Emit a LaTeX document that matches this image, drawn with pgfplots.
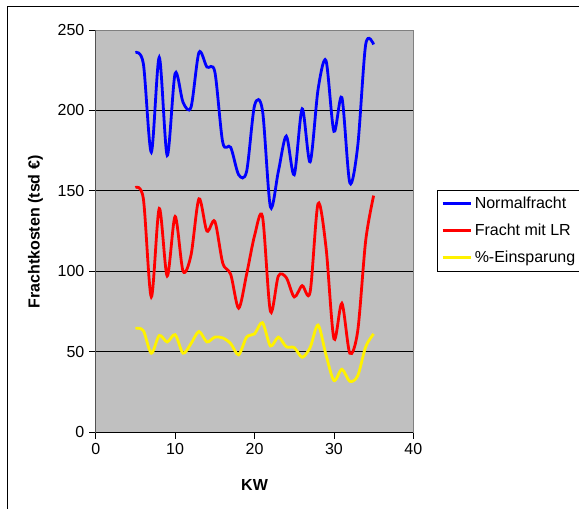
\documentclass[border=0pt]{standalone}
\usepackage{fontspec}
\setmainfont{Liberation Sans}
\usepackage{pgfplots}
\usepackage{pgfplotstable}
\pgfplotsset{compat=1.18}
\definecolor{plotbg}{RGB}{192,192,192}
\definecolor{framegray}{RGB}{128,128,128}
\pgfplotstableread{
kw  normal  lr     spar
5   236     152    64.5
6   229     145    63
7   174     84     49
8   233     139    60
9   172     97     56
10  223     134    60.5
11  205     100    49
12  202     110    55
13  236     145    62.5
14  227     125    56
15  224     131    59
16  180     105    58.5
17  177     98     55
18  160     77     48
19  162     98     59
20  203     122    61
21  200     134    68
22  140     75     53.5
23  162     97     59
24  184     96     53
25  160     84     52.5
26  201     91     46.5
27  168     87     52.5
28  213     142    66.5
29  231     115    48
30  187     58     32
31  208     80     39
32  155     49     31.5
33  178     63     35
34  241     119    53
35  241     147    61
}\datatable
\begin{document}
\begin{tikzpicture}
\useasboundingbox (0,0) rectangle (434.25pt,381pt);
\draw[black,line width=0.75pt] (5.6pt,-2pt) -- (5.6pt,376.1pt) -- (440pt,376.1pt);
\begin{axis}[
  at={(71.8pt,57pt)}, anchor=south west,
  scale only axis, width=238.2pt, height=301.5pt,
  xmin=0, xmax=40, ymin=0, ymax=250,
  xtick={0,10,...,40}, ytick={0,50,...,250},
  ymajorgrids, major grid style={black,line width=0.6pt},
  axis background/.style={fill=plotbg},
  axis line style={draw=framegray, line width=0.75pt},
  tick align=outside, xtick pos=bottom, ytick pos=left,
  major tick length=5pt, tick style={black,line width=0.6pt},
  /pgf/number format/assume math mode=true,
  ticklabel style={font=\fontsize{12}{14}\selectfont},
  xlabel={KW}, ylabel={Frachtkosten (tsd €)},
  every axis x label/.style={at={(axis description cs:0.5,-0.132)},anchor=center,font=\bfseries\fontsize{12}{14}\selectfont},
  every axis y label/.style={at={(axis description cs:-0.19,0.4975)},rotate=90,anchor=center,font=\bfseries\fontsize{12}{14}\selectfont},
  legend style={at={(axis description cs:1.0746,0.501)}, anchor=west, draw=black, fill=white,
    font=\fontsize{12}{14}\selectfont, row sep=6pt, inner sep=3pt, cells={anchor=west}},
  legend image code/.code={\draw[#1] (0pt,0pt) -- (21pt,0pt);},
]
\addplot[blue, line width=2.1pt, smooth] table[x=kw,y=normal] {\datatable};
\addlegendentry{Normalfracht}
\addplot[red, line width=2.1pt, smooth] table[x=kw,y=lr] {\datatable};
\addlegendentry{Fracht mit LR}
\addplot[yellow, line width=2.1pt, smooth] table[x=kw,y=spar] {\datatable};
\addlegendentry{\%-Einsparung}
\draw[black,line width=0.75pt] (rel axis cs:0,1) -- (rel axis cs:0,0) -- (rel axis cs:1,0);
\end{axis}
\end{tikzpicture}
\end{document}
